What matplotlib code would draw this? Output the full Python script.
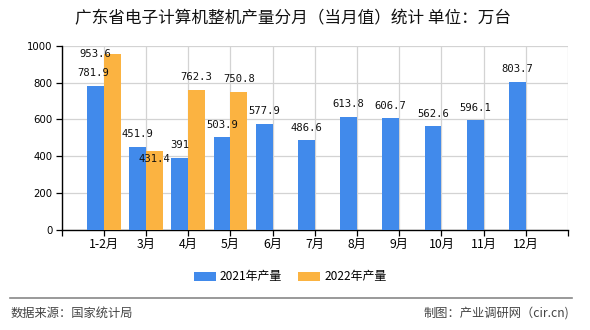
import numpy as np
import matplotlib
matplotlib.use("Agg")
import matplotlib.pyplot as plt
from matplotlib.lines import Line2D

plt.rcParams['font.family'] = ['Noto Sans CJK SC', 'DejaVu Sans']

# data
months = ["1-2月", "3月", "4月", "5月", "6月", "7月", "8月", "9月", "10月", "11月", "12月"]
prod_2021 = [781.9, 451.9, 391, 503.9, 577.9, 486.6, 613.8, 606.7, 562.6, 596.1, 803.7]
prod_2022 = [953.6, 431.4, 762.3, 750.8]
labels_2021 = ["781.9", "451.9", "391", "503.9", "577.9", "486.6", "613.8", "606.7", "562.6", "596.1", "803.7"]
labels_2022 = ["953.6", "431.4", "762.3", "750.8"]

blue = "#418aeb"
orange = "#fbb341"

fig = plt.figure(figsize=(5.9, 3.3), dpi=100)
ax = fig.add_axes([0.1046, 0.303, 0.8581, 0.5585])

x = np.arange(len(months))
x22 = np.arange(len(prod_2022))
w = 0.4
b1 = ax.bar(x - w / 2, prod_2021, w, color=blue, zorder=3, label="2021年产量")
b2 = ax.bar(x22 + w / 2, prod_2022, w, color=orange, zorder=3, label="2022年产量")

# value labels (mostly centered ~13px above bar top, a couple nudged like the original)
offs_21 = {0: (-2, 12.5)}
offs_22 = {0: (-17, 0), 1: (0, -8)}
for i, (v, t) in enumerate(zip(prod_2021, labels_2021)):
    dx, dy = offs_21.get(i, (0, 12.5))
    ax.annotate(t, (x[i] - w / 2, v), xytext=(dx * 0.72, dy * 0.72), textcoords="offset points",
                ha="center", va="center", fontsize=7.6, family="DejaVu Sans Mono",
                color="#111111", zorder=5, annotation_clip=False)
for i, (v, t) in enumerate(zip(prod_2022, labels_2022)):
    dx, dy = offs_22.get(i, (0, 12.5))
    ax.annotate(t, (x22[i] + w / 2, v), xytext=(dx * 0.72, dy * 0.72), textcoords="offset points",
                ha="center", va="center", fontsize=7.6, family="DejaVu Sans Mono",
                color="#111111", zorder=5, annotation_clip=False)

ax.set_xlim(-1, len(months))
ax.set_ylim(0, 1000)
ax.set_yticks(np.arange(0, 1001, 200))
ax.set_yticklabels([str(v) for v in range(0, 1001, 200)], fontsize=7.3, family="DejaVu Sans")
ax.set_xticks(np.arange(-1, len(months) + 1))
ax.set_xticklabels([""] + months + [""], fontsize=8.8)

ax.grid(True, color="#d3d3d3", linewidth=0.9, zorder=0)
for s in ["top", "right"]:
    ax.spines[s].set_visible(False)
for s in ["left", "bottom"]:
    ax.spines[s].set_color("black")
    ax.spines[s].set_linewidth(1.0)
ax.tick_params(axis="both", length=4, width=0.9, color="black", pad=2)
ax.tick_params(axis="y", length=4.5)

fig.text(0.496, 0.944, "广东省电子计算机整机产量分月（当月值）统计 单位：万台",
         ha="center", va="center", fontsize=12, color="#111111")

fig.legend(handles=[b1, b2], loc="center", bbox_to_anchor=(0.492, 0.161), ncol=2,
           frameon=False, fontsize=8.6, handlelength=1.85, handleheight=0.75,
           handletextpad=0.35, columnspacing=1.35)

fig.add_artist(Line2D([0.017, 0.969], [0.097, 0.097], transform=fig.transFigure,
                      color="#888888", linewidth=1.2))
fig.text(0.017, 0.05, "数据来源：国家统计局", ha="left", va="center", fontsize=8.8, color="#444444")
fig.text(0.965, 0.05, "制图：产业调研网（cir.cn)", ha="right", va="center", fontsize=8.8, color="#444444")

fig.savefig("out.png", dpi=100)
